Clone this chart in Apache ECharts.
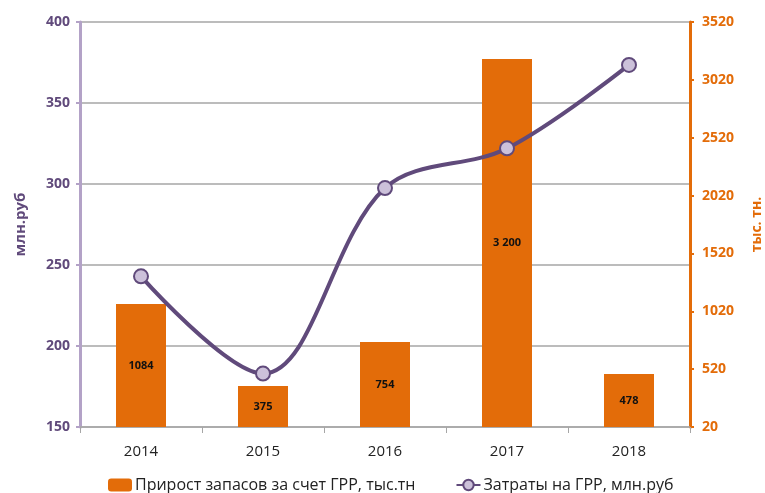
<!DOCTYPE html>
<html>
<head>
<meta charset="utf-8">
<script src="https://cdn.jsdelivr.net/npm/echarts@6/dist/echarts.min.js"></script>
<style>
html, body { margin: 0; padding: 0; background: #fff; }
#main { width: 765px; height: 493px; }
</style>
</head>
<body>
<div id="main"></div>
<script>
// данные
var years = ['2014', '2015', '2016', '2017', '2018'];
var reserves = [1084, 375, 754, 3200, 478];          // тыс.тн (правая ось)
var reserveLabels = ['1084', '375', '754', '3 200', '478'];
var costs = [243, 183, 297.5, 322, 373.5];           // млн.руб (левая ось)

var purple = '#604a7b';
var orange = '#e36c09';
var font = 'Open Sans';

var chart = echarts.init(document.getElementById('main'));

chart.setOption({
    animation: false,
    textStyle: { fontFamily: font },
    grid: { left: 80, right: 75, top: 22, bottom: 66, containLabel: false, outerBoundsMode: 'none' },
    legend: {
        left: 103,
        top: 472,
        itemGap: 40,
        itemWidth: 24,
        itemHeight: 13,
        textStyle: { fontSize: 16, color: '#222', fontFamily: font, padding: [0, 0, 0, -2] },
        data: ['Прирост запасов за счет ГРР, тыс.тн', 'Затраты на ГРР, млн.руб']
    },
    xAxis: {
        type: 'category',
        data: years,
        axisLine: { lineStyle: { color: '#a6a6a6', width: 1.5 } },
        axisTick: { show: true, length: 6, lineStyle: { color: '#a6a6a6' } },
        axisLabel: { fontSize: 15, color: '#222', margin: 17 }
    },
    yAxis: [
        {
            type: 'value',
            min: 150, max: 400, interval: 50,
            name: 'млн.руб',
            nameLocation: 'middle',
            nameGap: 52,
            nameTextStyle: { color: purple, fontSize: 15, fontWeight: 'bold' },
            axisLine: { show: true, lineStyle: { color: '#b3a2c7', width: 3 } },
            axisTick: { show: true, length: 4, lineStyle: { color: '#b3a2c7', width: 2 } },
            axisLabel: { color: purple, fontSize: 14, fontWeight: 'bold', margin: 10 },
            splitLine: { lineStyle: { color: '#a6a6a6', width: 1.5 } }
        },
        {
            type: 'value',
            min: 20, max: 3520, interval: 500,
            name: 'тыс. тн.',
            nameLocation: 'middle',
            nameGap: 60,
            nameRotate: 90,
            nameTextStyle: { color: orange, fontSize: 14, fontWeight: 'bold' },
            axisLine: { show: true, lineStyle: { color: orange, width: 3 } },
            axisTick: { show: true, length: 4, lineStyle: { color: orange, width: 2 } },
            axisLabel: {
                color: orange, fontSize: 14, fontWeight: 'bold', margin: 12,
                formatter: function (v) { return String(v); }
            },
            splitLine: { show: false }
        }
    ],
    series: [
        {
            name: 'Прирост запасов за счет ГРР, тыс.тн',
            type: 'bar',
            yAxisIndex: 1,
            barWidth: 50,
            data: reserves,
            itemStyle: { color: orange },
            label: {
                show: true,
                position: 'inside',
                color: '#111',
                fontSize: 11,
                fontWeight: 'bold',
                formatter: function (p) { return reserveLabels[p.dataIndex]; }
            }
        },
        {
            name: 'Затраты на ГРР, млн.руб',
            type: 'line',
            yAxisIndex: 0,
            smooth: 0.35,
            data: costs,
            symbol: 'circle',
            symbolSize: 14,
            lineStyle: { color: purple, width: 4 },
            itemStyle: { color: '#ccc1da', borderColor: purple, borderWidth: 2 }
        }
    ]
});
</script>
</body>
</html>
